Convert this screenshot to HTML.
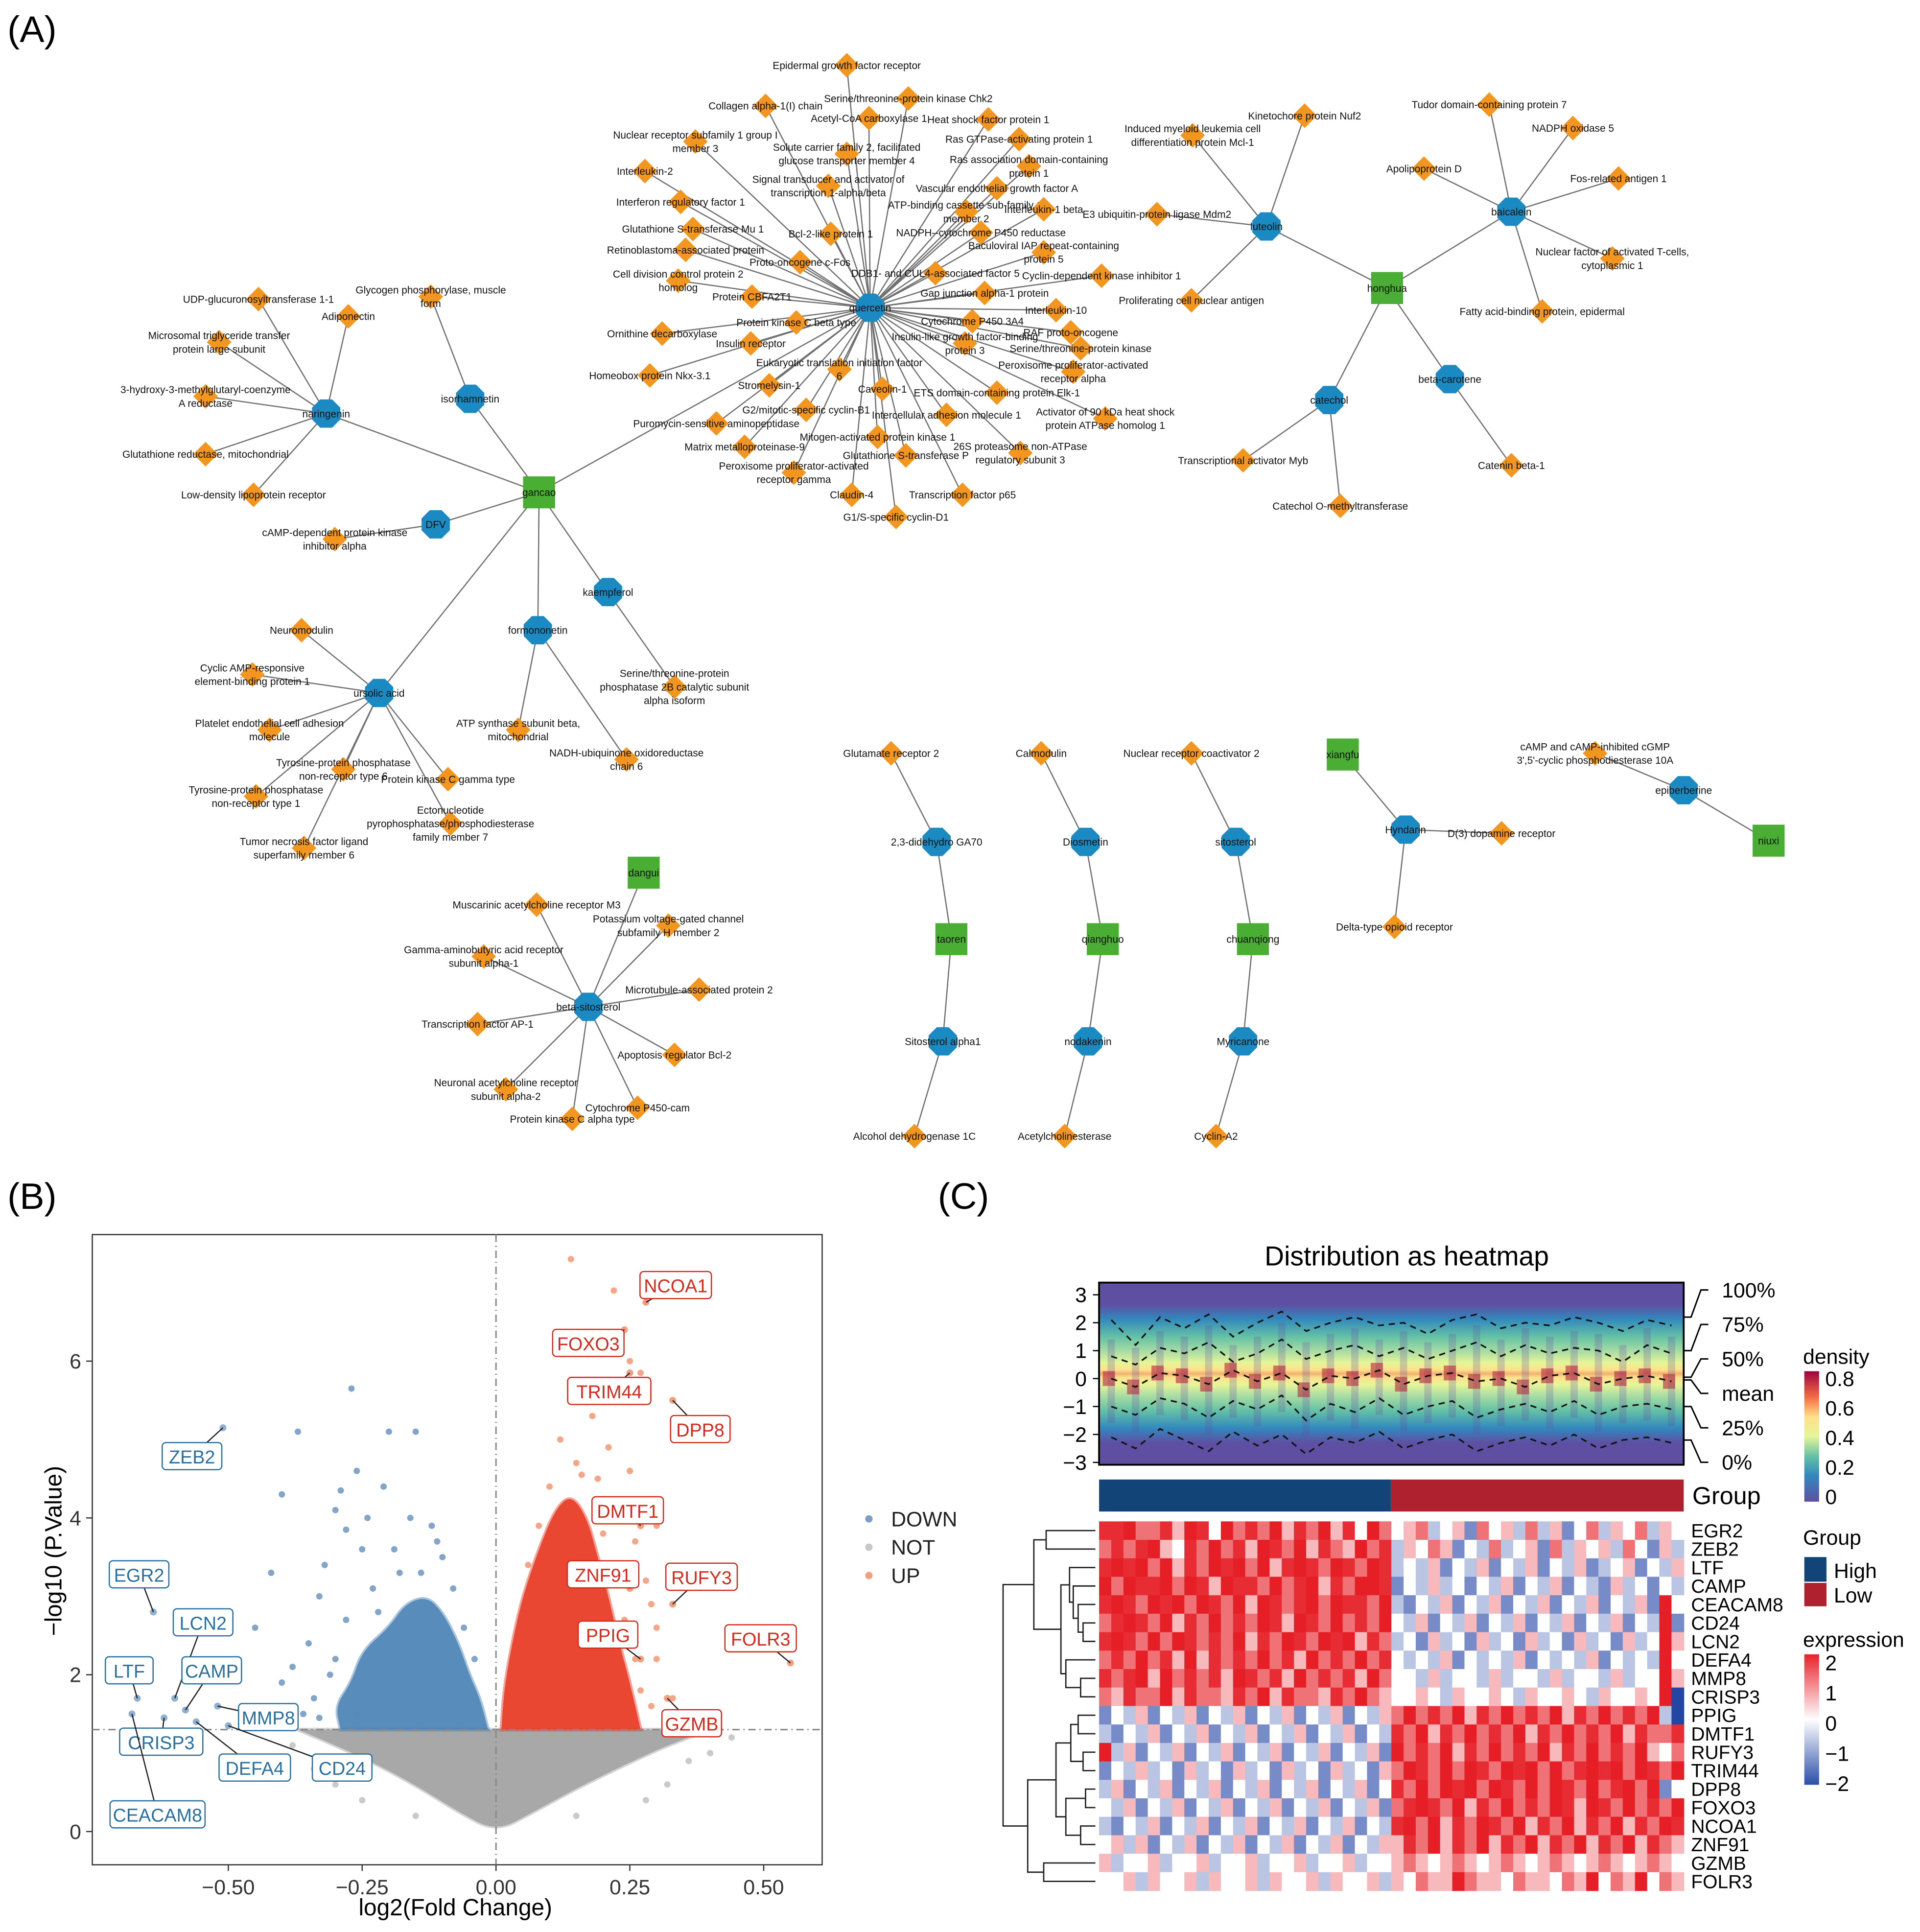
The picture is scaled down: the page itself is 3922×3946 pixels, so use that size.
<!DOCTYPE html>
<html><head><meta charset="utf-8"><style>
html,body{margin:0;padding:0;background:#fff;}
svg{display:block;font-family:"Liberation Sans",Arial,sans-serif;}
</style></head><body>
<svg id="fig" xmlns="http://www.w3.org/2000/svg" width="3922" height="3946" viewBox="0 0 1560 1569.6" preserveAspectRatio="none">
<defs>
<linearGradient id="densG" x1="0" y1="0" x2="0" y2="1">
<stop offset="0" stop-color="#5e4fa2"/><stop offset="0.12" stop-color="#5e4fa2"/>
<stop offset="0.2" stop-color="#3288bd"/><stop offset="0.3" stop-color="#66c2a5"/>
<stop offset="0.38" stop-color="#abdda4"/><stop offset="0.44" stop-color="#e6f598"/>
<stop offset="0.48" stop-color="#fee08b"/><stop offset="0.5" stop-color="#f0b070"/>
<stop offset="0.52" stop-color="#fee08b"/><stop offset="0.56" stop-color="#e6f598"/>
<stop offset="0.62" stop-color="#abdda4"/><stop offset="0.7" stop-color="#66c2a5"/>
<stop offset="0.8" stop-color="#3288bd"/><stop offset="0.88" stop-color="#5e4fa2"/>
<stop offset="1" stop-color="#5e4fa2"/></linearGradient>
<linearGradient id="densLeg" x1="0" y1="1" x2="0" y2="0">
<stop offset="0" stop-color="#5e4fa2"/><stop offset="0.2" stop-color="#3288bd"/><stop offset="0.35" stop-color="#66c2a5"/>
<stop offset="0.5" stop-color="#e6f598"/><stop offset="0.65" stop-color="#fee08b"/><stop offset="0.8" stop-color="#f46d43"/><stop offset="1" stop-color="#9e0142"/></linearGradient>
<linearGradient id="exprLeg" x1="0" y1="0" x2="0" y2="1">
<stop offset="0" stop-color="#e8222a"/><stop offset="0.5" stop-color="#ffffff"/><stop offset="1" stop-color="#2a4fa8"/></linearGradient>
</defs>
<text x="6" y="34" font-size="30">(A)</text>
<text x="6" y="982" font-size="30">(B)</text>
<text x="762" y="982" font-size="30">(C)</text>
<g id="net"></g>
<g id="vol"></g>
<g id="heat"></g>
</svg>
<script>
const NS="http://www.w3.org/2000/svg";
function mk(tag,attrs,parent,txt){const e=document.createElementNS(NS,tag);for(const k in attrs)e.setAttribute(k,attrs[k]);if(txt!==undefined)e.textContent=txt;parent.appendChild(e);return e;}

/* ================= NETWORK ================= */
const herbs=[["gancao",438,400],["honghua",1127,234],["dangui",523,709],["xiangfu",1091,613],["niuxi",1437,683],["taoren",773,763],["qianghuo",896,763],["chuanqiong",1018,763]];
const compounds=[["quercetin",707,250,"gancao"],["naringenin",265,336,"gancao"],["isorhamnetin",382,324,"gancao"],["DFV",354,426,"gancao"],["kaempferol",494,481,"gancao"],["formononetin",437,512,"gancao"],["ursolic acid",308,563,"gancao"],["luteolin",1029,184,"honghua"],["baicalein",1228,172,"honghua"],["catechol",1080,325,"honghua"],["beta-carotene",1178,308,"honghua"],["beta-sitosterol",478,818,"dangui"],["2,3-didehydro GA70",761,684,"taoren"],["Sitosterol alpha1",766,846,"taoren"],["Diosmetin",882,684,"qianghuo"],["nodakenin",884,846,"qianghuo"],["sitosterol",1004,684,"chuanqiong"],["Myricanone",1010,846,"chuanqiong"],["Hyndarin",1142,674,"xiangfu"],["epiberberine",1368,642,"niuxi"]];
const targets=[
["quercetin",688,53,"Epidermal growth factor receptor"],["quercetin",738,80,"Serine/threonine-protein kinase Chk2"],["quercetin",622,86,"Collagen alpha-1(I) chain"],["quercetin",706,96,"Acetyl-CoA carboxylase 1"],["quercetin",803,97,"Heat shock factor protein 1"],["quercetin",565,115,"Nuclear receptor subfamily 1 group I|member 3"],["quercetin",828,113,"Ras GTPase-activating protein 1"],["quercetin",688,125,"Solute carrier family 2, facilitated|glucose transporter member 4"],["quercetin",836,135,"Ras association domain-containing|protein 1"],["quercetin",524,139,"Interleukin-2"],["quercetin",673,151,"Signal transducer and activator of|transcription 1-alpha/beta"],["quercetin",810,153,"Vascular endothelial growth factor A"],["quercetin",553,164,"Interferon regulatory factor 1"],["quercetin",785,172,"ATP-binding cassette sub-family G|member 2"],["quercetin",848,170,"Interleukin-1 beta"],["quercetin",563,186,"Glutathione S-transferase Mu 1"],["quercetin",675,190,"Bcl-2-like protein 1"],["quercetin",797,189,"NADPH--cytochrome P450 reductase"],["quercetin",557,203,"Retinoblastoma-associated protein"],["quercetin",848,205,"Baculoviral IAP repeat-containing|protein 5"],["quercetin",650,213,"Proto-oncogene c-Fos"],["quercetin",551,228,"Cell division control protein 2|homolog"],["quercetin",760,222,"DDB1- and CUL4-associated factor 5"],["quercetin",895,224,"Cyclin-dependent kinase inhibitor 1"],["quercetin",611,241,"Protein CBFA2T1"],["quercetin",800,238,"Gap junction alpha-1 protein"],["quercetin",858,252,"Interleukin-10"],["quercetin",647,262,"Protein kinase C beta type"],["quercetin",538,271,"Ornithine decarboxylase"],["quercetin",784,279,"Insulin-like growth factor-binding|protein 3"],["quercetin",870,270,"RAF proto-oncogene"],["quercetin",610,279,"Insulin receptor"],["quercetin",790,261,"Cytochrome P450 3A4"],["quercetin",878,283,"Serine/threonine-protein kinase"],["quercetin",682,300,"Eukaryotic translation initiation factor|6"],["quercetin",872,302,"Peroxisome proliferator-activated|receptor alpha"],["quercetin",528,305,"Homeobox protein Nkx-3.1"],["quercetin",625,313,"Stromelysin-1"],["quercetin",717,316,"Caveolin-1"],["quercetin",810,319,"ETS domain-containing protein Elk-1"],["quercetin",655,333,"G2/mitotic-specific cyclin-B1"],["quercetin",769,337,"Intercellular adhesion molecule 1"],["quercetin",898,340,"Activator of 90 kDa heat shock|protein ATPase homolog 1"],["quercetin",582,344,"Puromycin-sensitive aminopeptidase"],["quercetin",713,355,"Mitogen-activated protein kinase 1"],["quercetin",605,363,"Matrix metalloproteinase-9"],["quercetin",829,368,"26S proteasome non-ATPase|regulatory subunit 3"],["quercetin",736,370,"Glutathione S-transferase P"],["quercetin",645,384,"Peroxisome proliferator-activated|receptor gamma"],["quercetin",692,402,"Claudin-4"],["quercetin",782,402,"Transcription factor p65"],["quercetin",728,420,"G1/S-specific cyclin-D1"],
["naringenin",210,243,"UDP-glucuronosyltransferase 1-1"],["naringenin",283,257,"Adiponectin"],["naringenin",178,278,"Microsomal triglyceride transfer|protein large subunit"],["naringenin",167,322,"3-hydroxy-3-methylglutaryl-coenzyme|A reductase"],["naringenin",167,369,"Glutathione reductase, mitochondrial"],["naringenin",206,402,"Low-density lipoprotein receptor"],
["isorhamnetin",350,241,"Glycogen phosphorylase, muscle|form"],["DFV",272,438,"cAMP-dependent protein kinase|inhibitor alpha"],
["kaempferol",548,558,"Serine/threonine-protein|phosphatase 2B catalytic subunit|alpha isoform"],
["formononetin",421,593,"ATP synthase subunit beta,|mitochondrial"],["formononetin",509,617,"NADH-ubiquinone oxidoreductase|chain 6"],
["ursolic acid",245,512,"Neuromodulin"],["ursolic acid",205,548,"Cyclic AMP-responsive|element-binding protein 1"],["ursolic acid",219,593,"Platelet endothelial cell adhesion|molecule"],["ursolic acid",279,625,"Tyrosine-protein phosphatase|non-receptor type 6"],["ursolic acid",208,647,"Tyrosine-protein phosphatase|non-receptor type 1"],["ursolic acid",364,633,"Protein kinase C gamma type"],["ursolic acid",366,669,"Ectonucleotide|pyrophosphatase/phosphodiesterase|family member 7"],["ursolic acid",247,689,"Tumor necrosis factor ligand|superfamily member 6"],
["luteolin",969,110,"Induced myeloid leukemia cell|differentiation protein Mcl-1"],["luteolin",1060,94,"Kinetochore protein Nuf2"],["luteolin",940,174,"E3 ubiquitin-protein ligase Mdm2"],["luteolin",968,244,"Proliferating cell nuclear antigen"],
["baicalein",1210,85,"Tudor domain-containing protein 7"],["baicalein",1278,104,"NADPH oxidase 5"],["baicalein",1315,145,"Fos-related antigen 1"],["baicalein",1157,137,"Apolipoprotein D"],["baicalein",1310,210,"Nuclear factor of activated T-cells,|cytoplasmic 1"],["baicalein",1253,253,"Fatty acid-binding protein, epidermal"],
["catechol",1010,374,"Transcriptional activator Myb"],["catechol",1089,411,"Catechol O-methyltransferase"],["beta-carotene",1228,378,"Catenin beta-1"],
["beta-sitosterol",436,735,"Muscarinic acetylcholine receptor M3"],["beta-sitosterol",543,752,"Potassium voltage-gated channel|subfamily H member 2"],["beta-sitosterol",393,777,"Gamma-aminobutyric acid receptor|subunit alpha-1"],["beta-sitosterol",568,804,"Microtubule-associated protein 2"],["beta-sitosterol",388,832,"Transcription factor AP-1"],["beta-sitosterol",548,857,"Apoptosis regulator Bcl-2"],["beta-sitosterol",411,885,"Neuronal acetylcholine receptor|subunit alpha-2"],["beta-sitosterol",518,900,"Cytochrome P450-cam"],["beta-sitosterol",465,909,"Protein kinase C alpha type"],
["2,3-didehydro GA70",724,612,"Glutamate receptor 2"],["Sitosterol alpha1",743,923,"Alcohol dehydrogenase 1C"],["Diosmetin",846,612,"Calmodulin"],["nodakenin",865,923,"Acetylcholinesterase"],["sitosterol",968,612,"Nuclear receptor coactivator 2"],["Myricanone",988,923,"Cyclin-A2"],["Hyndarin",1220,677,"D(3) dopamine receptor"],["Hyndarin",1133,753,"Delta-type opioid receptor"],["epiberberine",1296,612,"cAMP and cAMP-inhibited cGMP|3',5'-cyclic phosphodiesterase 10A"]
];
(function(){
const g=document.getElementById('net');
const pos={};herbs.forEach(h=>pos[h[0]]=[h[1],h[2]]);compounds.forEach(c=>pos[c[0]]=[c[1],c[2]]);
const eg=mk('g',{},g);


compounds.forEach(c=>{const p=pos[c[3]];const l=mk('line',{x1:p[0],y1:p[1],x2:c[1],y2:c[2],stroke:'#707070','stroke-width':1},eg);

});
targets.forEach(t=>{const p=pos[t[0]];const l=mk('line',{x1:p[0],y1:p[1],x2:t[1],y2:t[2],stroke:'#707070','stroke-width':1},eg);

});
targets.forEach(t=>{const x=t[1],y=t[2];
const d=mk('polygon',{points:`${x},${y-10} ${x+10},${y} ${x},${y+10} ${x-10},${y}`,fill:'#f3961f'},g);


const lines=t[3].split('|');const y0=y+3-(lines.length-1)*5.5;
lines.forEach((s,i)=>{const tx=mk('text',{x:x,y:y0+i*11,'font-size':8.3,'text-anchor':'middle',fill:'#111'},g,s);

});});
compounds.forEach(c=>{const x=c[1],y=c[2],r=12.5;let pts=[];for(let i=0;i<8;i++){const a=Math.PI/8+i*Math.PI/4;pts.push((x+r*Math.cos(a)).toFixed(1)+','+(y+r*Math.sin(a)).toFixed(1));}
const o=mk('polygon',{points:pts.join(' '),fill:'#1b8ac2'},g);


const tx=mk('text',{x:x,y:y+3,'font-size':8.3,'text-anchor':'middle',fill:'#111'},g,c[0]);

});
herbs.forEach(h=>{const r=mk('rect',{x:h[1]-13,y:h[2]-13,width:26,height:26,fill:'#4aae34'},g);


const tx=mk('text',{x:h[1],y:h[2]+3,'font-size':8.3,'text-anchor':'middle',fill:'#111'},g,h[0]);

});
})();

/* ================= VOLCANO ================= */
const xTicks=[-0.5,-0.25,0,0.25,0.5];
const xTickLabels=["−0.50","−0.25","0.00","0.25","0.50"];
const yTicks=[0,2,4,6];
const downCloud=[[-0.29,1.3],[-0.3,1.6],[-0.27,1.9],[-0.25,2.3],[-0.2,2.6],[-0.17,2.9],[-0.13,3.0],[-0.1,2.8],[-0.07,2.4],[-0.05,2.0],[-0.03,1.7],[-0.015,1.3]];
const upCloud=[[0.01,1.3],[0.015,1.8],[0.03,2.4],[0.05,3.0],[0.08,3.6],[0.11,4.1],[0.14,4.3],[0.17,4.0],[0.19,3.5],[0.21,3.0],[0.23,2.4],[0.25,1.9],[0.27,1.3]];
const notCloud=[[-0.37,1.3],[-0.3,1.1],[-0.22,0.85],[-0.14,0.55],[-0.07,0.25],[0,0],[0.07,0.25],[0.15,0.55],[0.24,0.85],[0.32,1.1],[0.4,1.3]];
const downPts=[[-0.27,5.65],[-0.37,5.1],[-0.2,5.1],[-0.15,5.1],[-0.26,4.6],[-0.21,4.4],[-0.4,4.3],[-0.3,4.1],[-0.12,3.9],[-0.25,3.6],[-0.42,3.3],[-0.33,3.0],[-0.45,2.6],[-0.35,2.4],[-0.3,2.2],[-0.4,1.9],[-0.36,1.5],[-0.22,2.8],[-0.18,3.3],[-0.1,3.5],[-0.32,3.4],[-0.28,2.7],[-0.38,2.1],[-0.34,1.7],[-0.29,4.35],[-0.16,4.0],[-0.23,3.1],[-0.14,3.3],[-0.08,3.1],[-0.06,2.6],[-0.31,2.0],[-0.33,1.45],[-0.28,3.85],[-0.19,3.6],[-0.26,1.5],[-0.04,2.2],[-0.11,3.7],[-0.24,4.0]];
const upPts=[[0.14,7.3],[0.22,6.9],[0.24,6.4],[0.2,6.2],[0.25,6.0],[0.27,5.85],[0.17,5.7],[0.33,5.5],[0.18,5.3],[0.21,4.9],[0.25,4.6],[0.3,3.9],[0.23,3.4],[0.29,2.9],[0.3,2.6],[0.3,2.2],[0.27,1.8],[0.33,1.7],[0.32,1.45],[0.12,5.0],[0.15,4.7],[0.26,3.7],[0.28,3.2],[0.22,4.2],[0.19,4.5],[0.1,4.4],[0.08,3.9],[0.24,2.7],[0.26,2.2],[0.29,1.6],[0.06,3.4],[0.2,3.8],[0.16,4.55],[0.27,4.1]];
const notPts=[[-0.42,0.9],[-0.38,1.1],[-0.3,0.6],[0.32,0.6],[0.4,1.0],[0.44,1.2],[-0.15,0.2],[0.15,0.2],[0.36,0.9],[-0.34,0.8],[0.28,0.4],[-0.25,0.4]];
const genes=["ZEB2","EGR2","LCN2","LTF","CAMP","MMP8","CRISP3","DEFA4","CD24","CEACAM8","NCOA1","FOXO3","TRIM44","DPP8","DMTF1","RUFY3","ZNF91","PPIG","FOLR3","GZMB"];
const geneFC=[-0.51,-0.64,-0.6,-0.67,-0.58,-0.52,-0.62,-0.56,-0.5,-0.68,0.28,0.24,0.25,0.33,0.27,0.33,0.25,0.27,0.55,0.32];
const geneP=[5.15,2.8,1.7,1.7,1.55,1.6,1.45,1.4,1.35,1.5,6.75,6.4,5.85,5.5,3.9,2.9,3.1,2.2,2.15,1.7];
const geneDown=[1,1,1,1,1,1,1,1,1,1,0,0,0,0,0,0,0,0,0,0];
const labelX=[156,113,165,105,172,218,131,207,278,128,549,478,495,569,510,570,490,494,618,562];
const labelY=[1183,1279,1318,1357,1357,1395,1415,1436,1436,1474,1044,1091,1130,1161,1227,1281,1279,1328,1331,1400];
(function(){
const g=document.getElementById('vol');
const X0=75,X1=668,Y0=1003,Y1=1515;
const xs=v=>403+v*435, ys=v=>1488-v*63.7;
const fr=mk('rect',{x:X0,y:Y0,width:X1-X0,height:Y1-Y0,fill:'#fff',stroke:'#333','stroke-width':1},g);


const smooth=arr=>{const p=arr.map(d=>[xs(d[0]),ys(d[1])]);let s='M'+p[0][0]+','+p[0][1];for(let i=1;i<p.length;i++){const m=[(p[i-1][0]+p[i][0])/2,(p[i-1][1]+p[i][1])/2];s+=' Q'+p[i-1][0]+','+p[i-1][1]+' '+m[0]+','+m[1];}s+=' L'+p[p.length-1][0]+','+p[p.length-1][1]+'Z';return s;};
const poly=(arr,col,op,name)=>{const p=mk('path',{d:smooth(arr),fill:col,opacity:op,stroke:col,'stroke-width':3,'stroke-opacity':0.5},g);

};
poly(notCloud,'#a4a4a4',0.95,'not-cloud');
poly(downCloud,'#3a78b0',0.85,'down-cloud');
poly(upCloud,'#e8341e',0.9,'up-cloud');
const pts=(arr,col,name)=>arr.forEach(d=>{const c=mk('circle',{cx:xs(d[0]),cy:ys(d[1]),r:2.6,fill:col,opacity:0.75},g);

});
pts(notPts,'#b8b8b8','not-point');pts(downPts,'#5b87b8','down-point');pts(upPts,'#f08860','up-point');
const dl=mk('line',{x1:xs(0),y1:Y0,x2:xs(0),y2:Y1,stroke:'#888','stroke-dasharray':'6 3 1 3','stroke-width':1.2},g);


const hl=mk('line',{x1:X0,y1:ys(1.3),x2:X1,y2:ys(1.3),stroke:'#888','stroke-dasharray':'6 3 1 3','stroke-width':1.2},g);


genes.forEach((n,i)=>{const px=xs(geneFC[i]),py=ys(geneP[i]);const col=geneDown[i]?'#2a6f9e':'#d42a1e';
const c=mk('circle',{cx:px,cy:py,r:2.8,fill:geneDown[i]?'#8fb0d0':'#f2a080'},g);


const ln=mk('line',{x1:px,y1:py,x2:labelX[i],y2:labelY[i],stroke:'#222','stroke-width':1},g);


const w=n.length*9.6+10;
const r=mk('rect',{x:labelX[i]-w/2,y:labelY[i]-11,width:w,height:22,rx:3,fill:'#fff',stroke:col,'stroke-width':1},g);


const t=mk('text',{x:labelX[i],y:labelY[i]+6,'font-size':15,'text-anchor':'middle',fill:col},g,n);

});
xTicks.forEach((v,i)=>{const tl=mk('line',{x1:xs(v),y1:Y1,x2:xs(v),y2:Y1+5,stroke:'#333'},g);


const t=mk('text',{x:xs(v),y:Y1+24,'font-size':17,'text-anchor':'middle',fill:'#333'},g,xTickLabels[i]);

});
yTicks.forEach(v=>{const tl=mk('line',{x1:X0-5,y1:ys(v),x2:X0,y2:ys(v),stroke:'#333'},g);


const t=mk('text',{x:X0-9,y:ys(v)+6,'font-size':17,'text-anchor':'end',fill:'#333'},g,String(v));

});
const xt=mk('text',{x:370,y:1556,'font-size':19,'text-anchor':'middle'},g,'log2(Fold Change)');


const yt=mk('text',{x:0,y:0,'font-size':19,'text-anchor':'middle',transform:'translate(50,1260) rotate(-90)'},g,'−log10 (P.Value)');


[["DOWN",'#7d9fc7',1234],["NOT",'#c8c8c8',1257],["UP",'#f2a080',1280]].forEach(l=>{
const c=mk('circle',{cx:706,cy:l[2],r:3,fill:l[1]},g);


const t=mk('text',{x:724,y:l[2]+6,'font-size':17,fill:'#222'},g,l[0]);

});
})();

/* ================= HEATMAP ================= */
const q100=[2.1,1.2,2.2,1.8,2.3,1.5,2.0,2.4,1.7,2.0,2.2,1.9,2.0,1.6,2.1,2.3,1.8,2.0,1.9,2.2,2.0,1.7,2.1,1.9];
const q75=[0.8,0.5,1.1,0.9,1.3,0.6,0.9,1.4,0.7,1.0,1.2,0.8,1.1,0.7,1.0,1.3,0.8,1.2,0.9,1.1,1.0,0.6,1.2,0.9];
const q50=[0,-0.3,0.2,0.1,-0.2,0.3,-0.1,0.2,-0.4,0.1,0,0.3,-0.2,0.1,0.2,-0.1,0,-0.3,0.1,0.2,-0.2,0,0.1,-0.1];
const q25=[-1.0,-1.3,-0.7,-0.9,-1.4,-0.8,-1.1,-0.6,-1.5,-0.9,-1.2,-0.7,-1.3,-1.0,-0.8,-1.4,-1.1,-0.9,-1.2,-0.8,-1.3,-1.0,-0.9,-1.1];
const q0=[-2.1,-2.5,-1.8,-2.2,-2.6,-1.9,-2.4,-2.0,-2.7,-2.1,-2.3,-1.9,-2.5,-2.2,-2.0,-2.6,-2.3,-2.1,-2.4,-2.0,-2.5,-2.2,-2.1,-2.3];
const rowGenes=["EGR2","ZEB2","LTF","CAMP","CEACAM8","CD24","LCN2","DEFA4","MMP8","CRISP3","PPIG","DMTF1","RUFY3","TRIM44","DPP8","FOXO3","NCOA1","ZNF91","GZMB","FOLR3"];
const exprRows=[
"778667587486768576857486456345264536352463546354",
"676785476867587685765867354652436345263545364253",
"787868576878685787687687343524352435243523452435",
"868778687587768678576887243534243524352432534243",
"787687868768587678687768324352435243524352435284",
"678768576867687587686768435243524352435243524382",
"787686876768576876878576342534253425342534253485",
"676867585767686758676867434352434352434352434384",
"767858676758767586767586443534435344353443534485",
"657668576657685766576865445435445435445435445480",
"243524352435243524352435686768576867685768676830",
"324352435243524352435243768576867685768676857667",
"835243524352435243524352867685768676857686768546",
"243534253425342534253425687686876878686787868768",
"352435243524352435243524768687868768687686786824",
"435243524352435243524352678768576867687587686768",
"324352435243524352435243786857687685768576857687",
"453524352435243524352435576857685768576857685765",
"534453445344534453445344565456545654565456545654",
"445354453544535445354453546558655465546584658465"];
const densTicks=[3,2,1,0,-1,-2,-3];
const densLegTicks=["0.8","0.6","0.4","0.2","0"];
const exprLegTicks=["2","1","0","−1","−2"];
(function(){
const g=document.getElementById('heat');
const X0=893,X1=1368;
const yd=v=>1120-v*22.7;
const t=mk('text',{x:1143,y:1028,'font-size':22,'text-anchor':'middle'},g,'Distribution as heatmap');


const bg=mk('rect',{x:X0,y:1042,width:X1-X0,height:148,fill:'url(#densG)'},g);


const n=q50.length,cw=(X1-X0)/n;
q50.forEach((m,i)=>{
const s=mk('rect',{x:X0+cw*i+cw*0.35,y:yd(q75[i]+0.6),width:cw*0.3,height:yd(q25[i]-0.6)-yd(q75[i]+0.6),fill:'#5e4fa2',opacity:0.25},g);


const e=mk('rect',{x:X0+cw*i+cw*0.15,y:yd(m)-6,width:cw*0.5,height:12,fill:'#b3243f',opacity:0.6},g);

});
[q100,q75,q50,q25,q0].forEach((arr,k)=>{const p=mk('polyline',{points:arr.map((v,i)=>(X0+cw*(i+0.5))+','+yd(v)).join(' '),fill:'none',stroke:'#111','stroke-width':1.3,'stroke-dasharray':'5 4'},g);

});
const bd=mk('rect',{x:X0,y:1042,width:X1-X0,height:148,fill:'none',stroke:'#000','stroke-width':1.5},g);


densTicks.forEach(v=>{const l=mk('line',{x1:X0-5,y1:yd(v),x2:X0,y2:yd(v),stroke:'#000'},g);


const tx=mk('text',{x:X0-10,y:yd(v)+6,'font-size':17,'text-anchor':'end'},g,v<0?'−'+(-v):String(v));

});
const qLabs=["100%","75%","50%","mean","25%","0%"];const qAt=[2.2,1.0,0.05,-0.05,-1.0,-2.2];
qLabs.forEach((s,i)=>{const ly=1048+i*28;
const p=mk('polyline',{points:`${X1},${yd(qAt[i])} ${X1+6},${yd(qAt[i])} ${X1+14},${ly} ${X1+20},${ly}`,fill:'none',stroke:'#000','stroke-width':1.2},g);


const tx=mk('text',{x:X1+31,y:ly+6,'font-size':17},g,s);

});
const gb1=mk('rect',{x:X0,y:1202,width:237,height:26,fill:'#124478'},g);


const gb2=mk('rect',{x:X0+237,y:1202,width:X1-X0-237,height:26,fill:'#b0212f'},g);


const gl=mk('text',{x:1375,y:1222,'font-size':20},g,'Group');


const HY=1236,rh=15,nc=exprRows[0].length,cw2=(X1-X0)/nc;
const col=v=>{let t=(v-4)/3.2;t=Math.max(-1,Math.min(1,t));let c;if(t>=0)c=[255+(230-255)*t,255+(30-255)*t,255+(38-255)*t];else{const s=-t;c=[255+(35-255)*s,255+(70-255)*s,255+(165-255)*s];}return 'rgb('+c.map(Math.round).join(',')+')';};
exprRows.forEach((row,r)=>{for(let c=0;c<nc;c++){const rc=mk('rect',{x:(X0+c*cw2).toFixed(2),y:HY+r*rh,width:(cw2+0.4).toFixed(2),height:rh+0.3,fill:col(+row[c])},g);

}
const tx=mk('text',{x:1374,y:HY+r*rh+13,'font-size':15.5},g,rowGenes[r]);

});
const ry=i=>HY+i*rh+rh/2;
const dg=mk('g',{stroke:'#222','stroke-width':1.1,fill:'none'},g);


const U=(x,y1,x1,y2,x2)=>{mk('path',{d:`M${x1},${y1} H${x} V${y2} H${x2}`},dg);return (y1+y2)/2;};
const a=U(850,ry(0),890,ry(1),890);
const b1=U(880,ry(5),890,ry(6),890);const b2=U(876,ry(4),890,b1,880);const b3=U(872,ry(3),890,b2,876);const b4=U(869,ry(2),890,b3,872);
const c1=U(878,ry(8),890,ry(9),890);const c2=U(866,ry(7),890,c1,878);const d1=U(862,b4,869,c2,866);const top=U(840,a,850,d1,862);
const e1=U(876,ry(10),890,ry(11),890);const e2=U(880,ry(12),890,ry(13),890);const e3=U(870,e1,876,e2,880);
const e4=U(882,ry(14),890,ry(15),890);const e5=U(878,ry(16),890,ry(17),890);const e6=U(866,e4,882,e5,878);const e7=U(858,e3,870,e6,866);
const f1=U(848,ry(18),890,ry(19),890);const bot=U(835,e7,858,f1,848);U(815,top,840,bot,835);
const lt=(x,y,s,fs,name)=>{const e=mk('text',{x:x,y:y,'font-size':fs},g,s);};
lt(1465,1108,'density',17,'density-legend-title');
const dl=mk('rect',{x:1466,y:1114,width:12,height:106,fill:'url(#densLeg)'},g);


densLegTicks.forEach((s,i)=>lt(1483,1126+i*24,s,17,'density-legend-tick'));
lt(1465,1255,'Group',17,'group-legend-title');
const h1=mk('rect',{x:1466,y:1265,width:18,height:20,fill:'#124478'},g);


const h2=mk('rect',{x:1466,y:1286,width:18,height:19,fill:'#b0212f'},g);


lt(1490,1282,'High',17,'legend-entry-high');lt(1490,1302,'Low',17,'legend-entry-low');
lt(1465,1338,'expression',17,'expression-legend-title');
const el=mk('rect',{x:1466,y:1344,width:12,height:106,fill:'url(#exprLeg)'},g);


exprLegTicks.forEach((s,i)=>lt(1483,1357+i*24.5,s,17,'expression-legend-tick'));
})();
</script>
</body></html>
